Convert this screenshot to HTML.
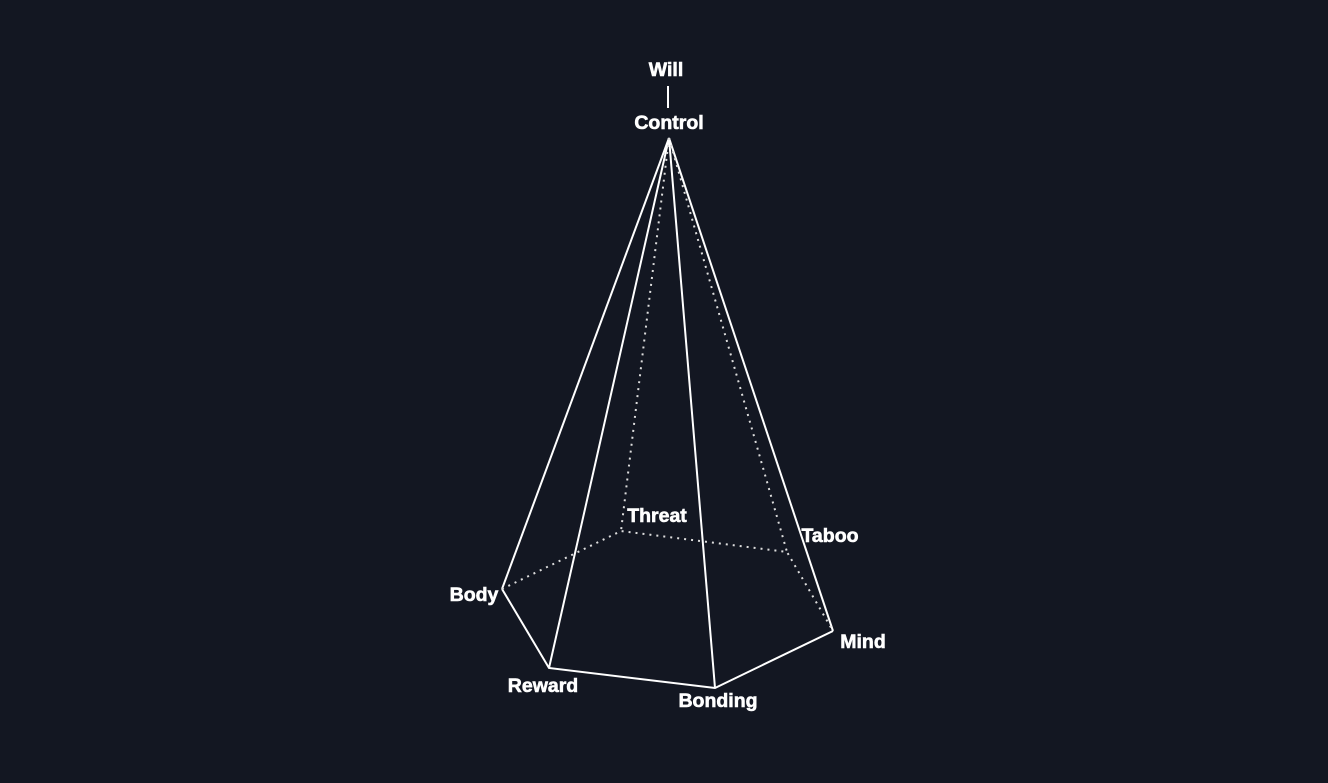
<!DOCTYPE html>
<html><head><style>
html,body{margin:0;padding:0;background:#131722;}
svg{display:block}
text{font-family:"Liberation Sans",Arial,sans-serif;font-weight:bold;font-size:19.5px;fill:#fff;stroke:#fff;stroke-width:0.6px;}
</style></head><body>
<svg width="1328" height="783" viewBox="0 0 1328 783">
<rect width="1328" height="783" fill="#131722"/>
<g stroke="#fff" fill="none" stroke-width="2">
<line x1="668" y1="86" x2="668" y2="108"/>
<line x1="669" y1="138" x2="502" y2="589"/>
<line x1="669" y1="138" x2="549" y2="668"/>
<line x1="669" y1="138" x2="715" y2="688"/>
<line x1="669" y1="138" x2="833" y2="631"/>
<polyline points="502,589 549,668 715,688 833,631"/>
</g>
<g stroke="#ddd" fill="none" stroke-width="2" stroke-dasharray="2 5">
<line x1="669" y1="138" x2="621" y2="531"/>
<line x1="669" y1="138" x2="787" y2="552"/>
<polyline points="502,589 621,531 787,552 833,631"/>
</g>
<text x="666" y="76" text-anchor="middle">Will</text>
<text x="669" y="129" text-anchor="middle">Control</text>
<text x="657" y="522" text-anchor="middle">Threat</text>
<text x="830" y="542" text-anchor="middle">Taboo</text>
<text x="474" y="601" text-anchor="middle">Body</text>
<text x="863" y="648" text-anchor="middle">Mind</text>
<text x="543" y="692" text-anchor="middle">Reward</text>
<text x="718" y="707" text-anchor="middle">Bonding</text>
</svg>
</body></html>
